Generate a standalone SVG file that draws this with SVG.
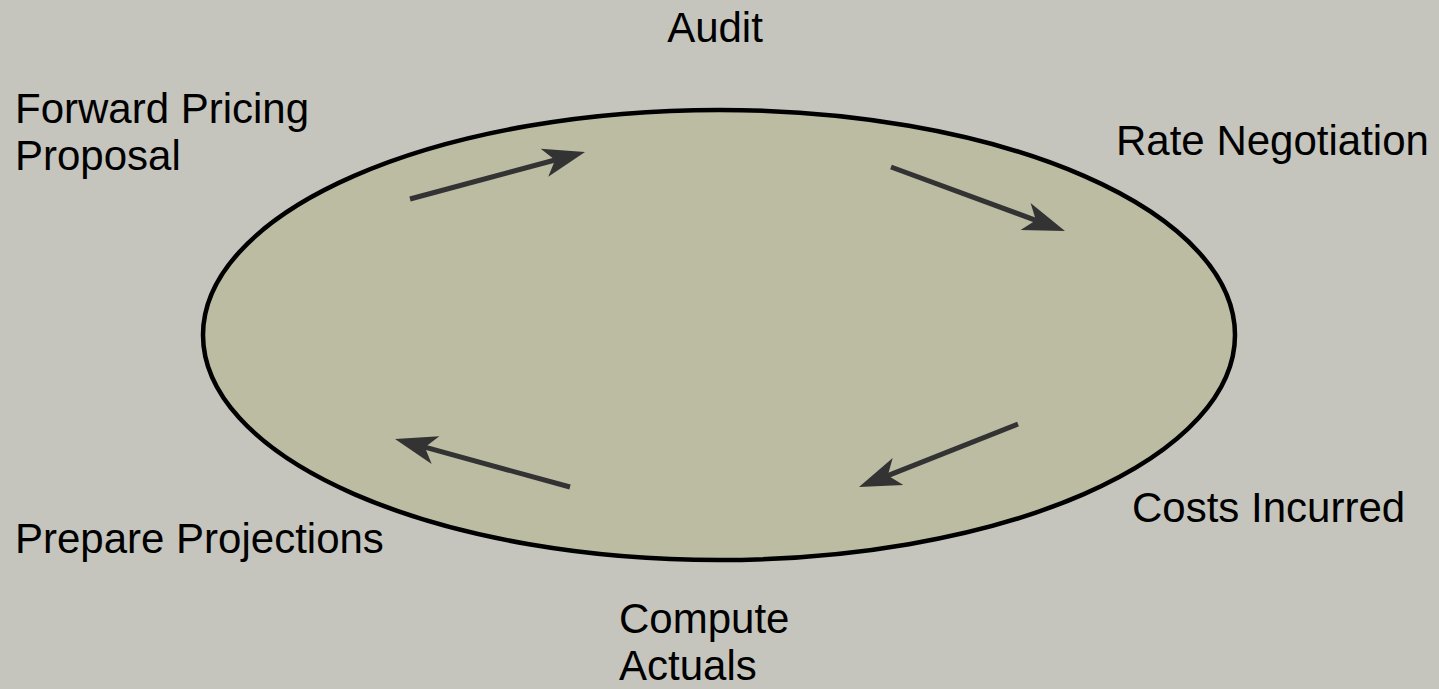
<svg xmlns="http://www.w3.org/2000/svg" width="1439" height="689" viewBox="0 0 1439 689">
  <style>
    .lbl { font-family: "Liberation Sans", Arial, sans-serif; font-size: 42px; fill: #000; }
    .arr { stroke: #333333; stroke-width: 5; fill: none; marker-end: url(#head); }
  </style>
  <defs>
    <marker id="head" markerUnits="userSpaceOnUse" markerWidth="60" markerHeight="40" viewBox="-15 -20 60 40" refX="0" refY="0" orient="auto" overflow="visible">
      <path d="M31,0 L-11,-14.5 L0,0 L-11,14.5 Z" fill="#333333"/>
    </marker>
  </defs>
  <rect x="0" y="0" width="1439" height="689" fill="#c5c5bd"/>
  <g id="cycle">
    <ellipse cx="719" cy="335" rx="516" ry="225" fill="#bcbca3" stroke="#000" stroke-width="4.5"/>
  </g>
  <g id="connectors">
    <path class="arr" d="M410,199 L555.1,160"/>
    <path class="arr" d="M891,167 L1035.9,220.3"/>
    <path class="arr" d="M570,487 L424.9,447.2"/>
    <path class="arr" d="M1018,424 L887.8,475.6"/>
  </g>
  <g id="audit"><text class="lbl" x="715" y="42" text-anchor="middle">Audit</text></g>
  <g id="forward-pricing-proposal"><text class="lbl" x="15" y="123">Forward Pricing</text><text class="lbl" x="15" y="170">Proposal</text></g>
  <g id="rate-negotiation"><text class="lbl" x="1116" y="155">Rate Negotiation</text></g>
  <g id="costs-incurred"><text class="lbl" x="1132" y="522">Costs Incurred</text></g>
  <g id="prepare-projections"><text class="lbl" x="15" y="553">Prepare Projections</text></g>
  <g id="compute-actuals"><text class="lbl" x="619" y="633">Compute</text><text class="lbl" x="619" y="680">Actuals</text></g>
</svg>
